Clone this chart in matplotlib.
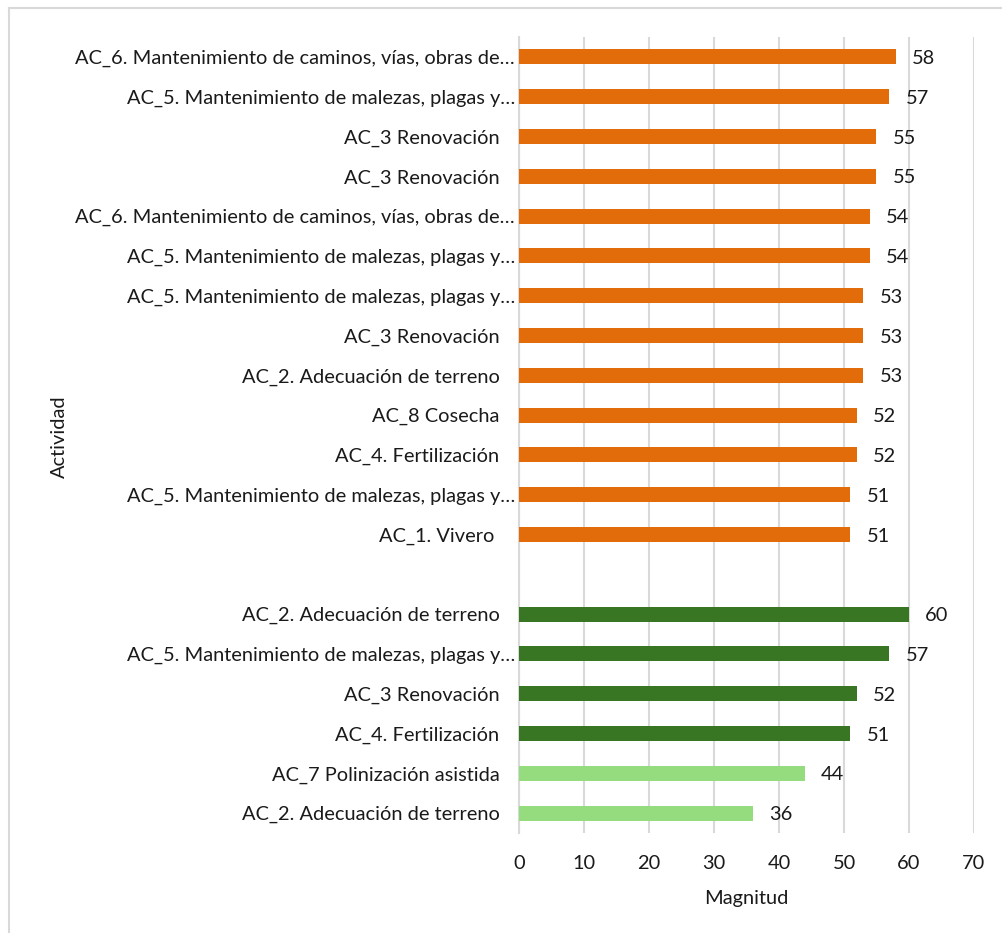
import matplotlib
matplotlib.use("Agg")
import matplotlib.pyplot as plt
from matplotlib.lines import Line2D
import numpy as np

plt.rcParams['font.family'] = ['Lato', 'DejaVu Sans']

# Activities, listed top to bottom within each group
orange_labels = [
    "AC_6. Mantenimiento de caminos, vías, obras de…",
    "AC_5. Mantenimiento de malezas, plagas y…",
    "AC_3 Renovación   ",
    "AC_3 Renovación   ",
    "AC_6. Mantenimiento de caminos, vías, obras de…",
    "AC_5. Mantenimiento de malezas, plagas y…",
    "AC_5. Mantenimiento de malezas, plagas y…",
    "AC_3 Renovación   ",
    "AC_2. Adecuación de terreno   ",
    "AC_8 Cosecha   ",
    "AC_4. Fertilización   ",
    "AC_5. Mantenimiento de malezas, plagas y…",
    "AC_1. Vivero    ",
]
orange_values = [58, 57, 55, 55, 54, 54, 53, 53, 53, 52, 52, 51, 51]

dark_labels = [
    "AC_2. Adecuación de terreno   ",
    "AC_5. Mantenimiento de malezas, plagas y…",
    "AC_3 Renovación   ",
    "AC_4. Fertilización   ",
]
dark_values = [60, 57, 52, 51]

light_labels = [
    "AC_7 Polinización asistida   ",
    "AC_2. Adecuación de terreno   ",
]
light_values = [44, 36]

x_ticks = [0, 10, 20, 30, 40, 50, 60, 70]

ORANGE = "#E36C0A"
DARK_GREEN = "#387623"
LIGHT_GREEN = "#95DC7F"
GRID = "#D9D9D9"
TEXT = "#1a1a1a"
FS = 14.4

W, H = 1003, 933
fig = plt.figure(figsize=(W / 100, H / 100), dpi=100)
ax = fig.add_axes([519 / W, 1 - 833 / H, (974 - 519) / W, (833 - 37) / H])

# Row layout: orange group, one empty row, then the two green groups
groups = [
    (orange_labels, orange_values, ORANGE),
    (dark_labels, dark_values, DARK_GREEN),
    (light_labels, light_values, LIGHT_GREEN),
]
n_rows = len(orange_labels) + 1 + len(dark_labels) + len(light_labels)
row = 0
tick_pos, tick_lab = [], []
for gi, (labels, values, color) in enumerate(groups):
    if gi == 1:
        row += 1  # blank separator row
    pos = n_rows - 1 - (row + np.arange(len(labels)))
    bars = ax.barh(pos, values, height=0.38, color=color, zorder=3)
    for b, v in zip(bars, values):
        ax.annotate(f"{v}", (b.get_width(), b.get_y() + b.get_height() / 2),
                    xytext=(11.5, -1.2), textcoords="offset points",
                    ha="left", va="center", fontsize=FS, color=TEXT)
    tick_pos.extend(pos)
    tick_lab.extend(labels)
    row += len(labels)

ax.set_ylim(-0.5, n_rows - 0.5)
ax.set_xlim(0, 70)
ax.set_xticks(x_ticks)
ax.set_yticks(tick_pos)
ax.set_yticklabels(tick_lab)
ax.tick_params(axis="y", length=0, pad=3, labelsize=FS, labelcolor=TEXT)
ax.tick_params(axis="x", length=0, pad=15.5, labelsize=FS, labelcolor=TEXT)

ax.grid(axis="x", color=GRID, linewidth=1.5, zorder=0)
for s in ["top", "right", "bottom"]:
    ax.spines[s].set_visible(False)
ax.spines["left"].set_color(GRID)
ax.spines["left"].set_linewidth(1.5)
ax.spines["left"].set_zorder(1)

ax.set_xlabel("Magnitud", fontsize=FS, color=TEXT, labelpad=13.5)
fig.text(59 / W, 1 - 437 / H, "Actividad", rotation=90, ha="center", va="center",
         fontsize=FS, color=TEXT)

# Light chart-area frame along the left and top edges
fig.add_artist(Line2D([9 / W, 9 / W], [0, 1 - 8 / H], transform=fig.transFigure,
                      color=GRID, linewidth=1.5))
fig.add_artist(Line2D([9 / W, 1], [1 - 8 / H, 1 - 8 / H], transform=fig.transFigure,
                      color=GRID, linewidth=1.5))

fig.savefig("out.png", dpi=100, facecolor="white")
